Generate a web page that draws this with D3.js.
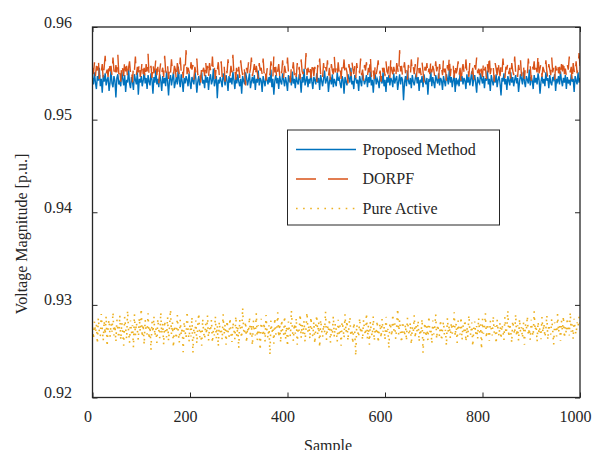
<!DOCTYPE html>
<html><head><meta charset="utf-8">
<script src="https://cdn.jsdelivr.net/npm/d3@7"></script>
<style>body{margin:0;background:#fff}svg{display:block}</style>
</head><body><svg id="c" width="593" height="450"></svg>
<script>
const seriesNames = ["Proposed Method", "DORPF", "Pure Active"];
const xTicks = [0, 200, 400, 600, 800, 1000];
const yTicks = [0.92, 0.93, 0.94, 0.95, 0.96];
const sampleMax = 1000;
const proposed = [
0.9545,0.9538,0.9551,0.9540,0.9533,0.9547,0.9542,0.9556,0.9536,0.9544,
0.9529,0.9548,0.9541,0.9550,0.9537,0.9543,0.9546,0.9531,0.9540,0.9553,
0.9539,0.9535,0.9547,0.9542,0.9524,0.9545,0.9549,0.9538,0.9541,0.9536,
0.9552,0.9544,0.9537,0.9548,0.9530,0.9543,0.9540,0.9555,0.9539,0.9534,
0.9546,0.9541,0.9532,0.9549,0.9543,0.9538,0.9551,0.9527,0.9544,0.9540,
0.9547,0.9536,0.9542,0.9553,0.9539,0.9545,0.9533,0.9548,0.9541,0.9537,
0.9550,0.9543,0.9528,0.9546,0.9540,0.9554,0.9538,0.9544,0.9535,0.9549,
0.9542,0.9531,0.9547,0.9539,0.9545,0.9536,0.9552,0.9541,0.9526,0.9543,
0.9548,0.9537,0.9544,0.9551,0.9534,0.9540,0.9546,0.9538,0.9557,0.9542,
0.9535,0.9549,0.9541,0.9530,0.9545,0.9539,0.9547,0.9543,0.9536,0.9550,
0.9540,0.9533,0.9546,0.9542,0.9538,0.9553,0.9544,0.9529,0.9541,0.9547,
0.9537,0.9545,0.9551,0.9539,0.9543,0.9534,0.9548,0.9540,0.9546,0.9532,
0.9544,0.9549,0.9538,0.9542,0.9555,0.9536,0.9541,0.9547,0.9523,0.9543,
0.9539,0.9546,0.9541,0.9535,0.9550,0.9544,0.9537,0.9548,0.9542,0.9531,
0.9547,0.9540,0.9545,0.9538,0.9552,0.9543,0.9533,0.9546,0.9539,0.9549,
0.9541,0.9536,0.9544,0.9528,0.9547,0.9542,0.9538,0.9551,0.9545,0.9537,
0.9543,0.9550,0.9534,0.9541,0.9546,0.9539,0.9548,0.9532,0.9544,0.9540,
0.9553,0.9537,0.9545,0.9542,0.9530,0.9547,0.9541,0.9536,0.9549,0.9543,
0.9538,0.9546,0.9540,0.9554,0.9535,0.9544,0.9527,0.9542,0.9548,0.9539,
0.9545,0.9533,0.9547,0.9541,0.9538,0.9550,0.9543,0.9536,0.9546,0.9540,
0.9531,0.9548,0.9542,0.9545,0.9537,0.9552,0.9539,0.9544,0.9534,0.9547,
0.9541,0.9538,0.9549,0.9543,0.9529,0.9546,0.9540,0.9555,0.9537,0.9542,
0.9547,0.9535,0.9544,0.9539,0.9551,0.9541,0.9533,0.9546,0.9543,0.9538,
0.9550,0.9540,0.9545,0.9532,0.9548,0.9542,0.9536,0.9544,0.9553,0.9539,
0.9543,0.9547,0.9530,0.9541,0.9546,0.9538,0.9549,0.9535,0.9544,0.9540,
0.9536,0.9551,0.9542,0.9545,0.9539,0.9534,0.9547,0.9543,0.9528,0.9546,
0.9541,0.9537,0.9549,0.9544,0.9540,0.9556,0.9538,0.9542,0.9533,0.9548,
0.9545,0.9539,0.9543,0.9531,0.9547,0.9541,0.9536,0.9550,0.9544,0.9538,
0.9542,0.9548,0.9535,0.9546,0.9540,0.9552,0.9537,0.9543,0.9529,0.9545,
0.9549,0.9538,0.9544,0.9541,0.9534,0.9547,0.9543,0.9539,0.9551,0.9536,
0.9543,0.9530,0.9546,0.9540,0.9548,0.9537,0.9545,0.9542,0.9535,0.9550,
0.9539,0.9544,0.9547,0.9532,0.9541,0.9549,0.9538,0.9546,0.9543,0.9521,
0.9540,0.9547,0.9536,0.9553,0.9542,0.9538,0.9545,0.9534,0.9548,0.9541,
0.9537,0.9544,0.9550,0.9539,0.9546,0.9531,0.9543,0.9540,0.9547,0.9535,
0.9549,0.9542,0.9538,0.9545,0.9527,0.9544,0.9541,0.9552,0.9536,0.9546,
0.9540,0.9534,0.9548,0.9543,0.9539,0.9550,0.9537,0.9545,0.9542,0.9532,
0.9547,0.9541,0.9536,0.9549,0.9544,0.9538,0.9555,0.9540,0.9546,0.9535,
0.9543,0.9548,0.9530,0.9545,0.9539,0.9542,0.9536,0.9551,0.9541,0.9547,
0.9538,0.9545,0.9542,0.9533,0.9549,0.9540,0.9546,0.9537,0.9544,0.9552,
0.9536,0.9543,0.9548,0.9540,0.9529,0.9546,0.9541,0.9539,0.9550,0.9544,
0.9539,0.9547,0.9534,0.9545,0.9542,0.9553,0.9538,0.9544,0.9531,0.9548,
0.9542,0.9537,0.9546,0.9540,0.9549,0.9535,0.9543,0.9547,0.9539,0.9526,
0.9545,0.9541,0.9550,0.9538,0.9544,0.9532,0.9547,0.9542,0.9537,0.9551,
0.9540,0.9546,0.9536,0.9543,0.9548,0.9539,0.9545,0.9530,0.9541,0.9549,
0.9544,0.9538,0.9552,0.9541,0.9535,0.9547,0.9543,0.9539,0.9554,0.9537,
0.9546,0.9542,0.9533,0.9548,0.9540,0.9545,0.9538,0.9550,0.9543,0.9528,
0.9541,0.9547,0.9539,0.9544,0.9536,0.9551,0.9542,0.9545,0.9534,0.9548,
0.9540,0.9537,0.9546,0.9543,0.9549,0.9531,0.9544,0.9541,0.9547,0.9538,
0.9552,0.9542,0.9536,0.9545,0.9540,0.9548,0.9533,0.9546,0.9539,0.9543,
0.9537,0.9549,0.9541,0.9544,0.9530,0.9547,0.9542,0.9538,0.9551,0.9540,
0.9545];
const dorpf = [
0.9556,0.9549,0.9562,0.9547,0.9558,0.9553,0.9566,0.9544,0.9555,0.9551,
0.9560,0.9543,0.9557,0.9569,0.9550,0.9554,0.9546,0.9563,0.9552,0.9558,
0.9548,0.9567,0.9553,0.9545,0.9559,0.9551,0.9570,0.9549,0.9556,0.9541,
0.9561,0.9554,0.9547,0.9565,0.9552,0.9558,0.9544,0.9556,0.9563,0.9550,
0.9555,0.9540,0.9559,0.9553,0.9568,0.9548,0.9557,0.9551,0.9562,0.9546,
0.9553,0.9564,0.9549,0.9556,0.9543,0.9560,0.9552,0.9571,0.9547,0.9555,
0.9558,0.9545,0.9561,0.9550,0.9554,0.9566,0.9548,0.9557,0.9539,0.9553,
0.9562,0.9551,0.9556,0.9546,0.9569,0.9553,0.9549,0.9559,0.9544,0.9557,
0.9550,0.9565,0.9552,0.9547,0.9558,0.9554,0.9542,0.9561,0.9555,0.9548,
0.9567,0.9551,0.9557,0.9545,0.9560,0.9553,0.9575,0.9549,0.9556,0.9552,
0.9546,0.9562,0.9554,0.9559,0.9543,0.9557,0.9551,0.9566,0.9548,0.9555,
0.9553,0.9540,0.9560,0.9552,0.9556,0.9547,0.9564,0.9550,0.9558,0.9545,
0.9561,0.9554,0.9549,0.9568,0.9551,0.9557,0.9544,0.9559,0.9553,0.9562,
0.9548,0.9555,0.9563,0.9546,0.9552,0.9559,0.9541,0.9556,0.9550,0.9565,
0.9553,0.9547,0.9558,0.9551,0.9570,0.9549,0.9555,0.9543,0.9561,0.9552,
0.9557,0.9545,0.9564,0.9554,0.9548,0.9559,0.9552,0.9537,0.9556,0.9550,
0.9562,0.9549,0.9555,0.9567,0.9547,0.9553,0.9560,0.9546,0.9558,0.9551,
0.9544,0.9561,0.9553,0.9556,0.9549,0.9566,0.9550,0.9557,0.9542,0.9554,
0.9559,0.9552,0.9548,0.9563,0.9555,0.9546,0.9569,0.9551,0.9557,0.9543,
0.9553,0.9560,0.9547,0.9556,0.9550,0.9564,0.9545,0.9558,0.9552,0.9549,
0.9567,0.9551,0.9555,0.9540,0.9559,0.9553,0.9562,0.9548,0.9556,0.9546,
0.9561,0.9550,0.9557,0.9544,0.9565,0.9552,0.9549,0.9558,0.9553,0.9572,
0.9548,0.9556,0.9551,0.9560,0.9545,0.9554,0.9563,0.9547,0.9557,0.9552,
0.9541,0.9559,0.9553,0.9566,0.9549,0.9555,0.9546,0.9561,0.9550,0.9557,
0.9552,0.9564,0.9547,0.9556,0.9543,0.9560,0.9553,0.9549,0.9568,0.9551,
0.9555,0.9546,0.9562,0.9550,0.9557,0.9544,0.9559,0.9552,0.9565,0.9548,
0.9556,0.9551,0.9539,0.9560,0.9553,0.9547,0.9563,0.9555,0.9549,0.9558,
0.9545,0.9561,0.9552,0.9557,0.9550,0.9566,0.9548,0.9554,0.9542,0.9559,
0.9553,0.9562,0.9547,0.9556,0.9551,0.9569,0.9546,0.9557,0.9552,0.9544,
0.9560,0.9549,0.9555,0.9564,0.9548,0.9553,0.9541,0.9558,0.9551,0.9556,
0.9547,0.9563,0.9552,0.9550,0.9559,0.9545,0.9567,0.9553,0.9549,0.9557,
0.9551,0.9544,0.9561,0.9555,0.9548,0.9575,0.9552,0.9558,0.9546,0.9554,
0.9562,0.9550,0.9556,0.9543,0.9559,0.9553,0.9547,0.9565,0.9551,0.9557,
0.9549,0.9560,0.9545,0.9554,0.9568,0.9550,0.9556,0.9548,0.9562,0.9552,
0.9540,0.9557,0.9553,0.9561,0.9547,0.9555,0.9549,0.9564,0.9551,0.9558,
0.9554,0.9546,0.9563,0.9552,0.9557,0.9544,0.9560,0.9550,0.9556,0.9548,
0.9566,0.9551,0.9555,0.9542,0.9559,0.9553,0.9569,0.9547,0.9557,0.9552,
0.9558,0.9545,0.9561,0.9550,0.9554,0.9563,0.9548,0.9556,0.9538,0.9553,
0.9560,0.9552,0.9547,0.9565,0.9551,0.9557,0.9546,0.9562,0.9553,0.9549,
0.9556,0.9543,0.9559,0.9554,0.9567,0.9550,0.9555,0.9548,0.9561,0.9552,
0.9546,0.9563,0.9553,0.9557,0.9544,0.9560,0.9551,0.9570,0.9549,0.9556,
0.9552,0.9558,0.9541,0.9561,0.9555,0.9548,0.9564,0.9553,0.9547,0.9559,
0.9550,0.9566,0.9552,0.9545,0.9557,0.9554,0.9562,0.9549,0.9556,0.9543,
0.9561,0.9553,0.9548,0.9568,0.9551,0.9556,0.9546,0.9559,0.9552,0.9564,
0.9547,0.9555,0.9560,0.9544,0.9557,0.9552,0.9549,0.9566,0.9553,0.9558,
0.9542,0.9559,0.9554,0.9563,0.9548,0.9556,0.9551,0.9571,0.9550,0.9555,
0.9561,0.9546,0.9557,0.9553,0.9549,0.9564,0.9552,0.9545,0.9560,0.9554,
0.9548,0.9567,0.9551,0.9556,0.9543,0.9558,0.9553,0.9562,0.9550,0.9557,
0.9545,0.9560,0.9552,0.9565,0.9549,0.9555,0.9547,0.9559,0.9554,0.9568,
0.9551,0.9557,0.9540,0.9561,0.9553,0.9548,0.9563,0.9550,0.9556,0.9572,
0.9558];
const pureActive = [
0.9276,0.9263,0.9282,0.9270,0.9279,0.9258,0.9286,0.9271,0.9266,0.9290,
0.9274,0.9261,0.9283,0.9268,0.9288,0.9255,0.9277,0.9284,0.9265,0.9280,
0.9271,0.9292,0.9267,0.9278,0.9260,0.9284,0.9273,0.9264,0.9289,0.9262,
0.9281,0.9270,0.9256,0.9287,0.9275,0.9263,0.9294,0.9272,0.9259,0.9283,
0.9269,0.9278,0.9254,0.9290,0.9267,0.9281,0.9273,0.9262,0.9286,0.9271,
0.9296,0.9265,0.9279,0.9257,0.9284,0.9272,0.9268,0.9291,0.9263,0.9277,
0.9251,0.9282,0.9270,0.9288,0.9266,0.9275,0.9259,0.9285,0.9273,0.9264,
0.9292,0.9269,0.9280,0.9257,0.9283,0.9271,0.9265,0.9287,0.9261,0.9276,
0.9295,0.9268,0.9281,0.9254,0.9278,0.9272,0.9263,0.9289,0.9270,0.9259,
0.9284,0.9267,0.9276,0.9249,0.9282,0.9271,0.9264,0.9293,0.9273,0.9260,
0.9279,0.9266,0.9287,0.9248,0.9275,0.9269,0.9283,0.9258,0.9278,0.9291,
0.9265,0.9272,0.9256,0.9285,0.9270,0.9263,0.9280,0.9268,0.9289,0.9261,
0.9276,0.9271,0.9284,0.9259,0.9273,0.9267,0.9288,0.9264,0.9278,0.9255,
0.9282,0.9270,0.9275,0.9262,0.9290,0.9268,0.9279,0.9257,0.9283,0.9272,
0.9265,0.9286,0.9269,0.9260,0.9281,0.9274,0.9263,0.9288,0.9266,0.9277,
0.9253,0.9284,0.9271,0.9264,0.9297,0.9273,0.9268,0.9282,0.9259,0.9276,
0.9270,0.9287,0.9265,0.9279,0.9256,0.9283,0.9272,0.9267,0.9291,0.9262,
0.9278,0.9269,0.9251,0.9285,0.9274,0.9266,0.9281,0.9260,0.9289,0.9271,
0.9264,0.9278,0.9246,0.9283,0.9270,0.9276,0.9258,0.9286,0.9268,0.9273,
0.9292,0.9265,0.9280,0.9259,0.9284,0.9272,0.9267,0.9288,0.9263,0.9277,
0.9255,0.9282,0.9271,0.9266,0.9294,0.9274,0.9261,0.9280,0.9269,0.9286,
0.9257,0.9276,0.9272,0.9290,0.9264,0.9279,0.9268,0.9283,0.9260,0.9275,
0.9292,0.9270,0.9278,0.9263,0.9287,0.9271,0.9266,0.9282,0.9258,0.9276,
0.9289,0.9268,0.9281,0.9254,0.9284,0.9273,0.9265,0.9279,0.9270,0.9293,
0.9262,0.9277,0.9271,0.9285,0.9259,0.9274,0.9268,0.9288,0.9265,0.9280,
0.9273,0.9260,0.9284,0.9269,0.9278,0.9256,0.9282,0.9275,0.9264,0.9290,
0.9270,0.9283,0.9261,0.9277,0.9287,0.9266,0.9274,0.9258,0.9281,0.9271,
0.9245,0.9279,0.9272,0.9265,0.9286,0.9269,0.9276,0.9262,0.9284,0.9273,
0.9267,0.9291,0.9263,0.9278,0.9257,0.9282,0.9270,0.9266,0.9288,0.9261,
0.9275,0.9268,0.9283,0.9259,0.9273,0.9280,0.9264,0.9285,0.9271,0.9277,
0.9262,0.9287,0.9269,0.9274,0.9253,0.9281,0.9276,0.9266,0.9290,0.9272,
0.9280,0.9263,0.9277,0.9296,0.9268,0.9284,0.9270,0.9259,0.9282,0.9275,
0.9266,0.9279,0.9261,0.9286,0.9273,0.9267,0.9281,0.9257,0.9276,0.9270,
0.9289,0.9264,0.9278,0.9271,0.9283,0.9260,0.9274,0.9269,0.9285,0.9248,
0.9272,0.9281,0.9265,0.9277,0.9262,0.9288,0.9270,0.9275,0.9258,0.9283,
0.9268,0.9276,0.9290,0.9263,0.9279,0.9271,0.9266,0.9284,0.9261,0.9274,
0.9282,0.9267,0.9273,0.9256,0.9286,0.9270,0.9278,0.9264,0.9281,0.9269,
0.9275,0.9292,0.9266,0.9280,0.9259,0.9283,0.9272,0.9268,0.9287,0.9262,
0.9278,0.9271,0.9284,0.9260,0.9276,0.9265,0.9289,0.9273,0.9267,0.9281,
0.9255,0.9274,0.9282,0.9268,0.9277,0.9263,0.9286,0.9270,0.9279,0.9252,
0.9285,0.9269,0.9276,0.9291,0.9264,0.9280,0.9272,0.9261,0.9283,0.9274,
0.9267,0.9288,0.9270,0.9277,0.9258,0.9284,0.9273,0.9266,0.9281,0.9263,
0.9279,0.9272,0.9262,0.9287,0.9269,0.9275,0.9294,0.9265,0.9280,0.9271,
0.9259,0.9283,0.9274,0.9268,0.9290,0.9266,0.9278,0.9261,0.9285,0.9270,
0.9276,0.9264,0.9281,0.9257,0.9279,0.9273,0.9288,0.9267,0.9275,0.9262,
0.9284,0.9271,0.9266,0.9293,0.9272,0.9278,0.9260,0.9282,0.9269,0.9276,
0.9263,0.9287,0.9270,0.9280,0.9265,0.9274,0.9289,0.9262,0.9279,0.9271,
0.9268,0.9285,0.9273,0.9257,0.9281,0.9276,0.9266,0.9290,0.9270,0.9278,
0.9261,0.9283,0.9272,0.9288,0.9264,0.9277,0.9269,0.9286,0.9274,0.9267,
0.9292,0.9271,0.9279,0.9263,0.9285,0.9273,0.9268,0.9281,0.9276,0.9287,
0.9280];

const colors = ["#0072BD", "#D95319", "#EDB120"];
const dashes = [null, "20,12", "1.6,5.5"];
const widths = [1.4, 1.4, 1.6];
const allSeries = [proposed, dorpf, pureActive];
const FONT = "Liberation Serif";

const L = 92.5, R = 580, T = 27, B = 397.5;
const svg = d3.select("#c");
const x = d3.scaleLinear().domain([0, sampleMax]).range([L, R]);
const y = d3.scaleLinear().domain([0.92, 0.96]).range([B, T]);

svg.append("rect").attr("x", 0).attr("y", 0).attr("width", 593).attr("height", 450).attr("fill", "#fff");
svg.append("defs").append("clipPath").attr("id", "clip")
  .append("rect").attr("x", L).attr("y", T).attr("width", R - L).attr("height", B - T);

const plot = svg.append("g").attr("clip-path", "url(#clip)");
allSeries.forEach((s, k) => {
  const n = s.length;
  const line = d3.line().x((d, i) => x(i * sampleMax / (n - 1))).y(d => y(d));
  const p = plot.append("path").datum(s).attr("d", line)
    .attr("fill", "none").attr("stroke", colors[k]).attr("stroke-width", widths[k]);
  if (dashes[k]) p.attr("stroke-dasharray", dashes[k]);
});

const axCol = "#262626";
function styleAxis(g) {
  g.attr("font-family", FONT).attr("font-size", 16);
  g.selectAll("path.domain").remove();
  g.selectAll("line").attr("stroke", axCol).attr("stroke-width", 1);
  g.selectAll("text").attr("font-family", FONT).attr("font-size", 16).attr("fill", axCol);
}
const gx = svg.append("g").attr("transform", `translate(0,${B})`)
  .call(d3.axisBottom(x).tickValues(xTicks).tickSize(-5).tickFormat(d3.format("d")));
styleAxis(gx);
gx.selectAll("text").attr("y", 24).attr("dy", "0").attr("dx", -5);
const gxt = svg.append("g").attr("transform", `translate(0,${T})`)
  .call(d3.axisTop(x).tickValues(xTicks).tickSize(-5).tickFormat(""));
styleAxis(gxt);
const gy = svg.append("g").attr("transform", `translate(${L},0)`)
  .call(d3.axisLeft(y).tickValues(yTicks).tickSize(-5).tickPadding(20).tickFormat(d3.format(".2f")));
styleAxis(gy);
gy.selectAll("text").attr("dy", "0").attr("x", -20.5);
const gyr = svg.append("g").attr("transform", `translate(${R},0)`)
  .call(d3.axisRight(y).tickValues(yTicks).tickSize(-5).tickFormat(""));
styleAxis(gyr);

svg.append("rect").attr("x", L).attr("y", T).attr("width", R - L).attr("height", B - T)
  .attr("fill", "none").attr("stroke", axCol).attr("stroke-width", 1.3);

svg.append("text").attr("x", 328).attr("y", 451).attr("text-anchor", "middle")
  .attr("font-family", FONT).attr("font-size", 16).attr("fill", axCol).text("Sample");
svg.append("text").attr("transform", "translate(27,234) rotate(-90)").attr("text-anchor", "middle")
  .attr("font-family", FONT).attr("font-size", 16).attr("fill", axCol).text("Voltage Magnitude [p.u.]");

const lg = svg.append("g");
lg.append("rect").attr("x", 287.5).attr("y", 130).attr("width", 212).attr("height", 95)
  .attr("fill", "#fff").attr("stroke", axCol).attr("stroke-width", 1);
seriesNames.forEach((name, k) => {
  const yy = 149.5 + k * 29.5;
  const ln = lg.append("line").attr("x1", 296).attr("x2", 356).attr("y1", yy).attr("y2", yy)
    .attr("stroke", colors[k]).attr("stroke-width", widths[k]);
  if (dashes[k]) ln.attr("stroke-dasharray", dashes[k]);
  lg.append("text").attr("x", 362.5).attr("y", yy + 5)
    .attr("font-family", FONT).attr("font-size", 16).attr("fill", axCol).text(name);
});
</script></body></html>
